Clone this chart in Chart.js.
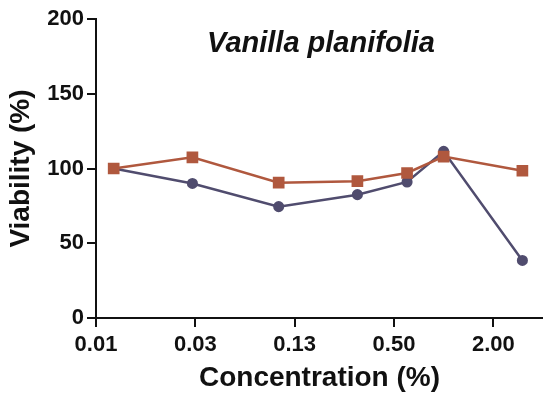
<!DOCTYPE html>
<html>
<head>
<meta charset="utf-8">
<title>Vanilla planifolia</title>
<script src="https://cdn.jsdelivr.net/npm/chart.js@4.4.0/dist/chart.umd.min.js"></script>
<style>
  body { margin: 0; background: #fff; }
  #viabilityChart { display: block; }
</style>
</head>
<body>
<canvas id="viabilityChart" width="543" height="395"></canvas>
<script>
// Data
const concentrations = [0.01, 0.03, 0.1, 0.3, 0.6, 1, 3];
const blueViability = [100, 90, 74.5, 82.5, 91, 111.5, 38.5];
const redViability = [100, 107.5, 90.5, 91.5, 97, 108, 98.5];

const tickValues = [0.0078125, 0.03125, 0.125, 0.5, 2];
const tickLabels = ['0.01', '0.03', '0.13', '0.50', '2.00'];
const yTicks = [0, 50, 100, 150, 200];

const chartTitle = 'Vanilla planifolia';

const fontFamily = "'Liberation Sans', Arial, Helvetica, sans-serif";

function toPoints(values) {
  return concentrations.map((c, i) => ({ x: c, y: values[i] }));
}

// draws the italic title inside the plot area
const titleInPlot = {
  id: 'titleInPlot',
  afterDraw(chart) {
    const { ctx, chartArea } = chart;
    ctx.save();
    ctx.font = 'italic bold 29px ' + fontFamily;
    ctx.fillStyle = '#111';
    ctx.textAlign = 'center';
    ctx.textBaseline = 'alphabetic';
    ctx.fillText(chartTitle, chartArea.left + 225, chartArea.top + 33);
    ctx.restore();
  }
};

const myChart = new Chart(document.querySelector('#viabilityChart'), {
  type: 'line',
  data: {
    datasets: [{
      label: 'red',
      data: toPoints(redViability),
      borderColor: 'rgb(176, 88, 62)',
      backgroundColor: 'rgb(176, 88, 62)',
      borderWidth: 2.5,
      pointStyle: 'rect',
      pointRadius: 6.5,
      tension: 0
    }, {
      label: 'blue',
      data: toPoints(blueViability),
      borderColor: 'rgb(80, 76, 110)',
      backgroundColor: 'rgb(80, 76, 110)',
      borderWidth: 2.5,
      pointStyle: 'circle',
      pointRadius: 4.3,
      tension: 0
    }]
  },
  options: {
    responsive: false,
    animation: false,
    layout: {
      autoPadding: false,
      padding: { top: 19, right: 0, left: 0, bottom: 0 }
    },
    plugins: {
      legend: { display: false },
      tooltip: { enabled: false }
    },
    scales: {
      x: {
        type: 'logarithmic',
        min: 0.0078125,
        max: 4,
        afterBuildTicks: scale => {
          scale.ticks = tickValues.map(v => ({ value: v }));
        },
        afterFit: scale => { scale.height = 77; },
        ticks: {
          color: '#111',
          font: { family: fontFamily, size: 22, weight: 'bold' },
          padding: 5,
          maxRotation: 0,
          autoSkip: false,
          callback: (value, index) => tickLabels[index]
        },
        grid: {
          drawOnChartArea: false,
          color: '#111',
          lineWidth: 2,
          tickLength: 9
        },
        border: { color: '#111', width: 2 },
        title: {
          display: true,
          text: 'Concentration (%)',
          color: '#111',
          font: { family: fontFamily, size: 28, weight: 'bold' },
          padding: { top: 0, bottom: 0 }
        }
      },
      y: {
        min: 0,
        max: 200,
        afterBuildTicks: scale => {
          scale.ticks = yTicks.map(v => ({ value: v }));
        },
        afterFit: scale => { scale.width = 96; },
        ticks: {
          color: '#111',
          font: { family: fontFamily, size: 22, weight: 'bold' },
          padding: 3
        },
        grid: {
          drawOnChartArea: false,
          color: '#111',
          lineWidth: 2,
          tickLength: 9
        },
        border: { color: '#111', width: 2 },
        title: {
          display: true,
          text: 'Viability (%)',
          color: '#111',
          font: { family: fontFamily, size: 28, weight: 'bold' },
          padding: { top: 4, bottom: 0 }
        }
      }
    }
  },
  plugins: [titleInPlot]
});
</script>
</body>
</html>
